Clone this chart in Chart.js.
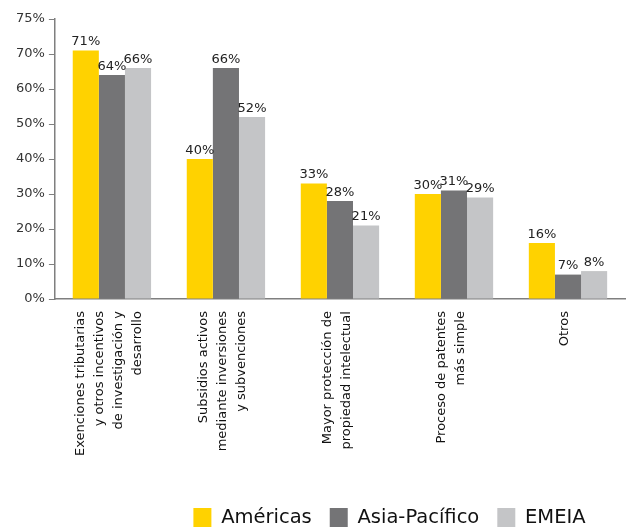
<!DOCTYPE html>
<html>
<head>
<meta charset="utf-8">
<script src="https://cdn.jsdelivr.net/npm/chart.js@4"></script>
<style>
  html,body{margin:0;padding:0;background:#fff;}
  #wrap{width:626px;height:527px;position:relative;}
</style>
</head>
<body>
<div id="wrap"><canvas id="chart"></canvas></div>
<script>
// categories (multi-line, as drawn under the axis)
const CATEGORIES = [
  ['Exenciones tributarias','y otros incentivos','de investigación y','desarrollo'],
  ['Subsidios activos','mediante inversiones','y subvenciones'],
  ['Mayor protección de','propiedad intelectual'],
  ['Proceso de patentes','más simple'],
  ['Otros']
];
const SERIES_NAMES = ['Américas','Asia-Pacífico','EMEIA'];
const AMERICAS = [71, 40, 33, 30, 16];
const ASIA_PACIFICO = [64, 66, 28, 31, 7];
const EMEIA = [66, 52, 21, 29, 8];
const COLORS = ['#FFD200','#747476','#C4C5C7'];
// y tick labels as printed (top tick reads 75%)
const Y_TICKS = {0:'0%',10:'10%',20:'20%',30:'30%',40:'40%',50:'50%',60:'60%',70:'70%',80:'75%'};

const FONT = 'DejaVu Sans, Verdana, sans-serif';

// draws the % value above each bar
const valueLabels = {
  id:'valueLabels',
  afterDatasetsDraw(chart){
    const ctx = chart.ctx;
    ctx.save();
    ctx.font = '13px ' + FONT;
    ctx.fillStyle = '#222';
    ctx.textAlign = 'center';
    ctx.textBaseline = 'bottom';
    chart.data.datasets.forEach((ds,i)=>{
      chart.getDatasetMeta(i).data.forEach((bar,j)=>{
        ctx.fillText(ds.data[j] + '%', bar.x, bar.y - 2);
      });
    });
    ctx.restore();
  }
};

// center the rotated multi-line category labels under their group,
// and move the legend a bit to the right like in the original
const tweakLayout = {
  id:'tweakLayout',
  afterLayout(chart){
    const xs = chart.scales.x;
    xs.getLabelItems(chart.chartArea).forEach(item=>{
      const n = Array.isArray(item.label) ? item.label.length : 1;
      item.options.translation[0] += -(n-1)/2*item.font.lineHeight - 3;
    });
    const lg = chart.legend;
    lg.left += 71;
    lg.right += 71;
  }
};

new Chart(document.getElementById('chart'),{
  type:'bar',
  data:{
    labels:CATEGORIES,
    datasets:[
      {label:SERIES_NAMES[0],data:AMERICAS,backgroundColor:COLORS[0]},
      {label:SERIES_NAMES[1],data:ASIA_PACIFICO,backgroundColor:COLORS[1]},
      {label:SERIES_NAMES[2],data:EMEIA,backgroundColor:COLORS[2]}
    ]
  },
  options:{
    responsive:true,
    maintainAspectRatio:false,
    animation:false,
    layout:{padding:{left:12,right:1,top:19,bottom:-11}},
    datasets:{bar:{categoryPercentage:0.687,barPercentage:1}},
    plugins:{
      legend:{
        position:'bottom',
        labels:{
          font:{family:FONT,size:19.5},
          color:'#111',
          boxWidth:18,
          boxHeight:20,
          padding:18
        }
      },
      tooltip:{enabled:false}
    },
    scales:{
      x:{
        grid:{display:false},
        border:{color:'#7f7f7f',width:1.5},
        ticks:{
          font:{family:FONT,size:13,lineHeight:1.46},
          color:'#111',
          maxRotation:90,
          minRotation:90,
          autoSkip:false,
          padding:4
        },
        // blank room between the labels and the legend
        afterFit(scale){ scale.height += 30; }
      },
      y:{
        min:0,
        max:80,
        grid:{display:true,drawOnChartArea:false,tickLength:6,color:'#7f7f7f'},
        border:{color:'#7f7f7f',width:1.5},
        ticks:{
          stepSize:10,
          font:{family:FONT,size:13},
          color:'#333',
          padding:4,
          callback:v=>Y_TICKS[v]
        }
      }
    }
  },
  plugins:[valueLabels, tweakLayout]
});
</script>
</body>
</html>
